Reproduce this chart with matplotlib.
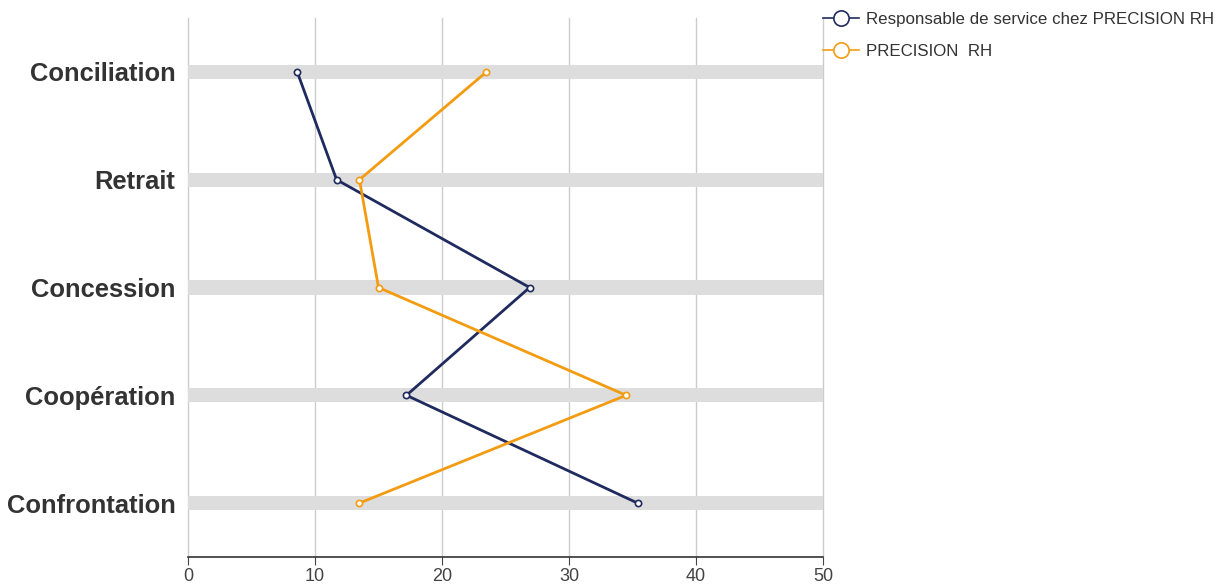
import numpy as np
import matplotlib
matplotlib.use('Agg')
import matplotlib.pyplot as plt
from matplotlib.lines import Line2D

categories = ['Conciliation', 'Retrait', 'Concession', 'Coopération', 'Confrontation']
responsable = [8.6, 11.7, 26.9, 17.2, 35.4]
precision = [23.5, 13.5, 15.0, 34.5, 13.5]
series_names = ['Responsable de service chez PRECISION RH', 'PRECISION  RH']
xticks = [0, 10, 20, 30, 40, 50]

navy = '#1f2b5e'
orange = '#f39c12'

plt.rcParams['font.family'] = ['Liberation Sans', 'DejaVu Sans']

fig = plt.figure(figsize=(12.19, 5.85), dpi=100)
ax = fig.add_axes([188 / 1219, 1 - 557 / 585, (823 - 188) / 1219, (557 - 18) / 585])

y = np.arange(len(categories))

# grey bands behind each category
for yi in y:
    ax.barh(yi, 50, height=0.13, left=0, color='#dddddd', zorder=1)

ax.plot(responsable, y, color=navy, lw=2, marker='o', ms=4.5,
        mfc='white', mec=navy, mew=1.2, zorder=3)
ax.plot(precision, y, color=orange, lw=2, marker='o', ms=4.5,
        mfc='white', mec=orange, mew=1.2, zorder=3)

ax.set_xlim(0, 50)
ax.set_ylim(len(categories) - 0.5, -0.5)
ax.set_xticks(xticks)
ax.set_xticklabels([str(t) for t in xticks], family=['Liberation Sans Narrow', 'Liberation Sans'])
ax.set_yticks(y)
ax.set_yticklabels(categories, fontsize=18.4, fontweight='bold', color='#333333')
ax.tick_params(axis='y', length=0, pad=9)
ax.tick_params(axis='x', colors='#444444', labelsize=13, length=6, direction='out', pad=2)
ax.grid(axis='x', color='#cccccc', lw=1, zorder=0)
ax.set_axisbelow(True)
# keep the edge gridlines fully visible
for gl in ax.xaxis.get_gridlines():
    gl.set_clip_on(False)

for s in ['top', 'right', 'left']:
    ax.spines[s].set_visible(False)
ax.spines['bottom'].set_color('#333333')
ax.spines['bottom'].set_linewidth(1.2)

handles = [
    Line2D([], [], color=navy, lw=1.2, marker='o', ms=11, mfc='white', mec=navy, mew=1.2),
    Line2D([], [], color=orange, lw=1.2, marker='o', ms=11, mfc='white', mec=orange, mew=1.2),
]
fig.legend(handles, series_names, loc='upper left', bbox_to_anchor=(808 / 1219, 1 + 3 / 585),
           frameon=False, fontsize=12.2, handlelength=2.1, handletextpad=0.45,
           labelspacing=1.0, labelcolor='#333333')

fig.savefig('out.png', dpi=100)
